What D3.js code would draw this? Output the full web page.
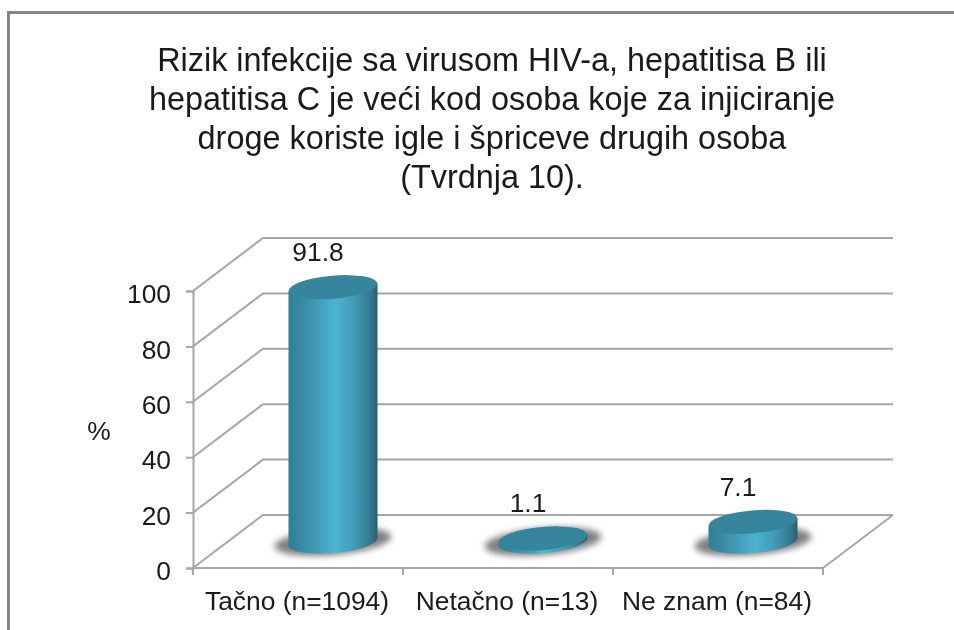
<!DOCTYPE html>
<html><head><meta charset="utf-8">
<script src="https://cdn.jsdelivr.net/npm/d3@7/dist/d3.min.js"></script>
<style>html,body{margin:0;padding:0;background:#fff}svg{display:block;filter:blur(0.4px)}text{font-family:"Liberation Sans",Arial,sans-serif;fill:#1a1a1a}</style>
</head><body><svg id="c" width="954" height="630"></svg>
<script>
const categories = ["Tačno (n=1094)", "Netačno (n=13)", "Ne znam (n=84)"];
const values = [91.8, 1.1, 7.1];
const yTicks = [0, 20, 40, 60, 80, 100];
const titleLines = ["Rizik infekcije sa virusom HIV-a, hepatitisa B ili",
  "hepatitisa C je veći kod osoba koje za injiciranje",
  "droge koriste igle i špriceve drugih osoba", "(Tvrdnja 10)."];
const yAxisLabel = "%";

const svg = d3.select("#c");
const defs = svg.append("defs");
const grad = defs.append("linearGradient").attr("id", "cyl");
[[0,"#2b7f98"],[0.12,"#36889f"],[0.3,"#4299b6"],[0.52,"#4cb4d2"],[0.74,"#419bb7"],[0.92,"#33798f"],[1,"#2c5c6e"]]
  .forEach(([o,c]) => grad.append("stop").attr("offset", o).attr("stop-color", c));
defs.append("filter").attr("id", "blur").attr("x", "-30%").attr("y", "-60%").attr("width", "160%").attr("height", "220%")
  .append("feGaussianBlur").attr("stdDeviation", 3);

// frame
svg.append("path").attr("d", "M8.5 630V12.5H954").attr("fill", "none").attr("stroke", "#858585").attr("stroke-width", 3);

// title
svg.append("g").selectAll("text").data(titleLines).join("text")
  .attr("x", 492).attr("y", (d, i) => 71 + i * 39)
  .attr("text-anchor", "middle").attr("font-size", 32.4).text(d => d);

// scales
const x = d3.scaleBand().domain(categories).range([193, 823]);
const y = d3.scaleLinear().domain([0, 100]).range([568, 291]);
const depthX = 70, depthY = -53;
const gridColor = "#a6a6a6";
const labelSize = 26.4;
const g = svg.append("g");

// walls
g.selectAll("path.grid").data(yTicks).join("path").attr("class", "grid")
  .attr("d", t => `M${x.range()[0]} ${y(t)}l${depthX} ${depthY}H${x.range()[1] + depthX}`)
  .attr("fill", "none").attr("stroke", gridColor).attr("stroke-width", 2);
g.append("path").attr("d", `M${x.range()[1]} ${y(0)}l${depthX} ${depthY}`)
  .attr("fill", "none").attr("stroke", gridColor).attr("stroke-width", 2);

// axes
const yAxis = d3.axisLeft(y).tickValues(yTicks).tickSize(7).tickPadding(15);
const yG = g.append("g").attr("transform", `translate(${x.range()[0]},0)`).call(yAxis);
const xAxis = d3.axisBottom(x).tickSize(0).tickPadding(26);
const xG = g.append("g").attr("transform", `translate(0,${y(0)})`).call(xAxis);
xG.selectAll("path.domain").attr("d", `M${x.range()[0]} 0H${x.range()[1]}`);
xG.selectAll("line.sep").data([...categories.map(c => x(c)), x.range()[1]]).join("line").attr("class", "sep")
  .attr("x1", d => d).attr("x2", d => d).attr("y1", 0).attr("y2", 7);
[yG, xG].forEach(a => {
  a.selectAll("path.domain,line").attr("stroke", gridColor).attr("stroke-width", 2);
  a.selectAll("text").attr("font-size", labelSize).attr("fill", "#1a1a1a").attr("font-family", '"Liberation Sans",Arial,sans-serif');
});
xG.selectAll(".tick text").attr("dx", -1).attr("dy", "0.62em");
yG.selectAll(".tick text").attr("dy", "0.44em");

svg.append("text").attr("x", 99).attr("y", 440).attr("text-anchor", "middle").attr("font-size", labelSize).text(yAxisLabel);

// bars
const rx = 44.5, ry = 11.5, tilt = -5;
const cx = c => x(c) + x.bandwidth() / 2 + depthX / 2;
const base = y(0) + depthY / 2;
const barTop = v => base - (y(0) - y(v));
const data = categories.map((c, i) => ({ c, v: values[i] }));
const bars = g.append("g").selectAll("g").data(data).join("g");

bars.append("ellipse").attr("cx", d => cx(d.c)).attr("cy", base).attr("rx", rx + 14).attr("ry", ry + 2)
  .attr("transform", d => `rotate(${tilt} ${cx(d.c)} ${base})`)
  .attr("fill", "#808080").attr("filter", "url(#blur)");

const dy = rx * Math.sin(-tilt * Math.PI / 180);
bars.append("path").attr("fill", "url(#cyl)").attr("d", d => {
  const X = cx(d.c), T = barTop(d.v);
  return `M${X - rx} ${T + dy}L${X - rx} ${base + dy}A${rx} ${ry} ${tilt} 0 0 ${X + rx} ${base - dy}L${X + rx} ${T - dy}Z`;
});
bars.append("ellipse").attr("cx", d => cx(d.c)).attr("cy", d => barTop(d.v)).attr("rx", rx).attr("ry", ry)
  .attr("transform", d => `rotate(${tilt} ${cx(d.c)} ${barTop(d.v)})`)
  .attr("fill", "#37849d");

bars.append("text").attr("x", d => cx(d.c) - 15).attr("y", d => barTop(d.v) - 26)
  .attr("text-anchor", "middle").attr("font-size", labelSize).text(d => d.v);
</script></body></html>
